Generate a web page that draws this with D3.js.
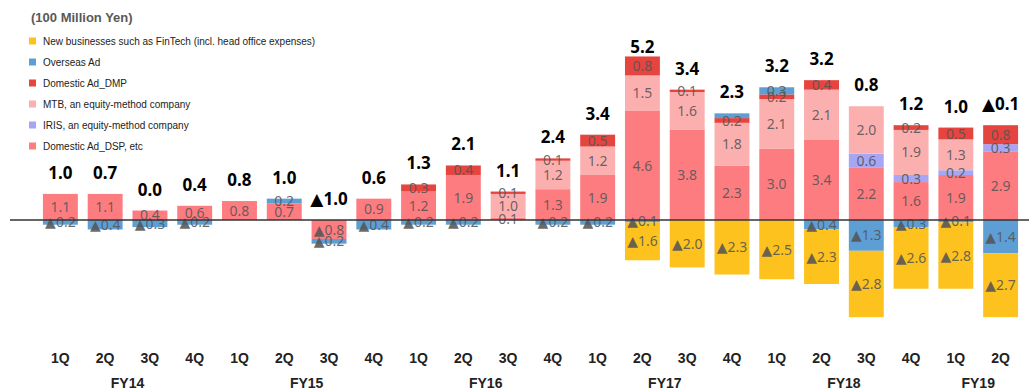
<!DOCTYPE html>
<html>
<head>
<meta charset="utf-8">
<script src="https://cdn.jsdelivr.net/npm/d3@7"></script>
<style>
  html, body { margin: 0; padding: 0; background: #fff; }
  svg { display: block; }
</style>
</head>
<body>
<svg id="chart" width="1029" height="390"></svg>
<script>
// Quarterly operating profit change by segment (100 million yen)
const quarters = ["1Q","2Q","3Q","4Q","1Q","2Q","3Q","4Q","1Q","2Q","3Q","4Q",
                  "1Q","2Q","3Q","4Q","1Q","2Q","3Q","4Q","1Q","2Q"];
const fiscalYears = ["FY14","FY14","FY14","FY14","FY15","FY15","FY15","FY15",
                     "FY16","FY16","FY16","FY16","FY17","FY17","FY17","FY17",
                     "FY18","FY18","FY18","FY18","FY19","FY19"];

const dspValues      = [1.1,1.1,0.4,0.6, 0.8,0.7,-0.8,0.9, 1.2,1.9,0.1,1.3, 1.9,4.6,3.8,2.3, 3.0,3.4,2.2,1.6, 1.9,2.9];
const irisValues     = [0,0,0,0, 0,0,0,0, 0,0,0,0, 0,0,0,0, 0,0,0.6,0.3, 0.2,0.3];
const mtbValues      = [0,0,0,0, 0,0,0,0, 0,0,1.0,1.2, 1.2,1.5,1.6,1.8, 2.1,2.1,2.0,1.9, 1.3,0];
const dmpValues      = [0,0,0,0, 0,0,0,0, 0.3,0.4,0.1,0.1, 0.5,0.8,0.1,0.2, 0.2,0.4,0,0.2, 0.5,0.8];
const overseasValues = [-0.2,-0.4,-0.3,-0.2, 0,0.2,-0.2,-0.4, -0.2,-0.2,0,-0.2, -0.2,-0.1,0,0.2, 0.3,-0.4,-1.3,-0.3, -0.1,-1.4];
const newBizValues   = [0,0,0,0, 0,0,0,0, 0,0,0,0, 0,-1.6,-2.0,-2.3, -2.5,-2.3,-2.8,-2.6, -2.8,-2.7];
const totalValues    = [1.0,0.7,0.0,0.4, 0.8,1.0,-1.0,0.6, 1.3,2.1,1.1,2.4, 3.4,5.2,3.4,2.3, 3.2,3.2,0.8,1.2, 1.0,-0.1];

// Segments whose value label is left off (thin band sharing space with a neighbour)
const unlabeled = ["15:overseas"];

const seriesKeys = ["dsp","iris","mtb","dmp","overseas","newbiz"];
const seriesNames = {
  newbiz: "New businesses such as FinTech (incl. head office expenses)",
  overseas: "Overseas Ad",
  dmp: "Domestic Ad_DMP",
  mtb: "MTB, an equity-method company",
  iris: "IRIS, an equity-method company",
  dsp: "Domestic Ad_DSP, etc"
};
const legendOrder = ["newbiz","overseas","dmp","mtb","iris","dsp"];
const colors = {
  dsp: "#fd7c80",
  iris: "#a6a6f4",
  mtb: "#fcafaf",
  dmp: "#e6443f",
  overseas: "#5d9fd5",
  newbiz: "#fdc21d"
};

const rows = quarters.map((q, i) => ({
  idx: i, q, fy: fiscalYears[i],
  dsp: dspValues[i], iris: irisValues[i], mtb: mtbValues[i], dmp: dmpValues[i],
  overseas: overseasValues[i], newbiz: newBizValues[i], total: totalValues[i]
}));

const svg = d3.select("#chart");

const x = d3.scaleBand()
  .domain(rows.map(d => d.idx))
  .range([38, 1023])
  .paddingInner(0.22)
  .paddingOuter(0.11);

const y = d3.scaleLinear()
  .domain([-4, 7])
  .range([220 + 4 * 23.7, 220 - 7 * 23.7]);

const stacked = d3.stack()
  .keys(seriesKeys)
  .offset(d3.stackOffsetDiverging)(rows);

const fmt = v => (v < 0 ? "\u25B2" : "") + Math.abs(v).toFixed(1);

// bars
const layers = svg.append("g").selectAll("g")
  .data(stacked).join("g")
  .attr("fill", s => colors[s.key]);

layers.selectAll("rect")
  .data(s => s.filter(p => p.data[s.key] !== 0).map(p => ({ p, key: s.key })))
  .join("rect")
  .attr("x", d => x(d.p.data.idx))
  .attr("width", x.bandwidth())
  .attr("y", d => y(Math.max(d.p[0], d.p[1])))
  .attr("height", d => Math.abs(y(d.p[0]) - y(d.p[1])));

// segment value labels
const segLabels = [];
stacked.forEach(s => s.forEach(p => {
  const v = p.data[s.key];
  if (v === 0) return;
  if (unlabeled.includes(p.data.idx + ":" + s.key)) return;
  segLabels.push({ idx: p.data.idx, v, mid: (p[0] + p[1]) / 2 });
}));

svg.append("g").selectAll("text")
  .data(segLabels).join("text")
  .attr("x", d => x(d.idx) + x.bandwidth() / 2)
  .attr("y", d => y(d.mid))
  .attr("dy", "0.36em")
  .attr("text-anchor", "middle")
  .attr("font-family", "'Noto Sans', 'DejaVu Sans', sans-serif")
  .attr("font-size", 14)
  .attr("fill", "#555")
  .attr("fill-opacity", 0.88)
  .text(d => fmt(d.v));

// zero line
svg.append("line")
  .attr("x1", 10).attr("x2", 1029)
  .attr("y1", y(0)).attr("y2", y(0))
  .attr("stroke", "#333").attr("stroke-width", 1.3);

// totals above each bar
const posTop = rows.map(r => d3.sum(seriesKeys, k => Math.max(0, r[k])));
svg.append("g").selectAll("text")
  .data(rows).join("text")
  .attr("x", d => x(d.idx) + x.bandwidth() / 2)
  .attr("y", d => Math.max(y(posTop[d.idx]) - 15, 53))
  .attr("text-anchor", "middle")
  .attr("font-family", "'Noto Sans', 'DejaVu Sans', sans-serif")
  .attr("font-weight", "bold")
  .attr("font-size", 17)
  .attr("fill", "#000")
  .text(d => fmt(d.total));

// quarter axis labels
svg.append("g").selectAll("text")
  .data(rows).join("text")
  .attr("x", d => x(d.idx) + x.bandwidth() / 2)
  .attr("y", 363)
  .attr("text-anchor", "middle")
  .attr("font-family", "'Liberation Sans Narrow', 'Liberation Sans', sans-serif")
  .attr("font-weight", "bold")
  .attr("font-size", 14)
  .attr("fill", "#222")
  .text(d => d.q);

// fiscal-year group labels
const groups = d3.groups(rows, d => d.fy);
svg.append("g").selectAll("text")
  .data(groups).join("text")
  .attr("x", g => {
    const first = g[1][0].idx, last = g[1][g[1].length - 1].idx;
    return (x(first) + x(last) + x.bandwidth()) / 2;
  })
  .attr("y", 388)
  .attr("text-anchor", "middle")
  .attr("font-family", "'Liberation Sans Narrow', 'Liberation Sans', sans-serif")
  .attr("font-weight", "bold")
  .attr("font-size", 14)
  .attr("fill", "#222")
  .text(g => g[0]);

// unit caption
svg.append("text")
  .attr("x", 31).attr("y", 22)
  .attr("font-family", "'Liberation Sans', Arial, sans-serif")
  .attr("font-weight", "bold")
  .attr("font-size", 13)
  .attr("fill", "#595959")
  .text("(100 Million Yen)");

// legend
const legend = svg.append("g").selectAll("g")
  .data(legendOrder).join("g")
  .attr("transform", (k, i) => `translate(29, ${41 + i * 21})`);
legend.append("rect")
  .attr("x", 0).attr("y", -3.5)
  .attr("width", 7).attr("height", 7)
  .attr("fill", k => colors[k]);
legend.append("text")
  .attr("x", 14).attr("y", 0)
  .attr("dy", "0.35em")
  .attr("font-family", "'Liberation Sans', Arial, sans-serif")
  .attr("font-size", 10)
  .attr("fill", "#222")
  .text(k => seriesNames[k]);
</script>
</body>
</html>
